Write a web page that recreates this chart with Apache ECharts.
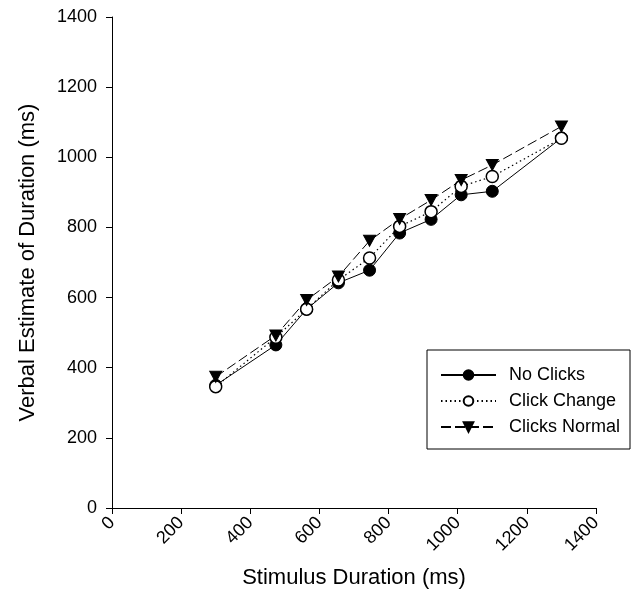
<!DOCTYPE html>
<html>
<head>
<meta charset="utf-8">
<script src="https://cdn.jsdelivr.net/npm/echarts@6/dist/echarts.min.js"></script>
<style>
  html, body { margin: 0; padding: 0; background: #fff; }
  #chart { width: 640px; height: 590px; }
</style>
</head>
<body>
<div id="chart"></div>
<script>
// Stimulus durations (ms) presented to participants
const stimulus = [300, 474, 563, 655, 745, 832, 923, 1010, 1100, 1300];

// Mean verbal estimates (ms) per condition
const noClicks     = [350, 465, 567, 642, 678, 784, 823, 893, 903, 1055];
const clickChange  = [346, 487, 567, 650, 713, 803, 845, 917, 945, 1054];
const clicksNormal = [374, 492, 593, 660, 762, 824, 878, 935, 978, 1088];

const seriesNames = ['No Clicks', 'Click Change', 'Clicks Normal'];

// Axis ticks (both axes share the same range)
const axisTicks = [0, 200, 400, 600, 800, 1000, 1200, 1400];

const FONT = '"Liberation Sans", Arial, sans-serif';

function pairs(ys) {
  return stimulus.map((x, i) => [x, ys[i]]);
}

// plain integers, no thousands separators
const plain = v => String(v);

const chart = echarts.init(document.getElementById('chart'), null, { renderer: 'canvas' });

const axisCommon = {
  type: 'value',
  min: axisTicks[0],
  max: axisTicks[axisTicks.length - 1],
  interval: axisTicks[1] - axisTicks[0],
  splitLine: { show: false },
  axisLine: { show: true, onZero: false, lineStyle: { color: '#000', width: 1 } },
  axisTick: { show: true, inside: false, length: 6, lineStyle: { color: '#000', width: 1 } },
  nameLocation: 'middle',
  nameTextStyle: { color: '#000', fontFamily: FONT, fontSize: 22 }
};

chart.setOption({
  animation: false,
  backgroundColor: '#fff',
  grid: { left: 112, right: 44, top: 17, bottom: 82, containLabel: false, outerBoundsMode: 'none' },
  xAxis: Object.assign({}, axisCommon, {
    name: 'Stimulus Duration (ms)',
    nameGap: 59,
    axisLabel: { rotate: 45, margin: 12, color: '#000', fontFamily: FONT, fontSize: 18, formatter: plain }
  }),
  yAxis: Object.assign({}, axisCommon, {
    name: 'Verbal Estimate of Duration (ms)',
    nameGap: 73,
    axisLabel: { margin: 15, color: '#000', fontFamily: FONT, fontSize: 18, formatter: plain }
  }),
  legend: {
    data: seriesNames,
    orient: 'vertical',
    left: 427,
    top: 350,
    width: 203,
    padding: [16, 10, 13, 13],
    itemWidth: 55,
    itemHeight: 12,
    itemGap: 8,
    borderColor: '#000',
    borderWidth: 1,
    borderRadius: 0,
    backgroundColor: '#fff',
    textStyle: { color: '#000', fontFamily: FONT, fontSize: 18, lineHeight: 18, padding: [0, 0, 0, 8] }
  },
  series: [
    {
      name: seriesNames[0],
      type: 'line',
      data: pairs(noClicks),
      symbol: 'circle',
      symbolSize: 12,
      lineStyle: { color: '#000', width: 1, type: 'solid' },
      itemStyle: { color: '#000', borderColor: '#000', borderWidth: 1 }
    },
    {
      name: seriesNames[1],
      type: 'line',
      data: pairs(clickChange),
      symbol: 'circle',
      symbolSize: 12,
      lineStyle: { color: '#000', width: 1.2, type: [1.5, 3] },
      itemStyle: { color: '#fff', borderColor: '#000', borderWidth: 1.5 }
    },
    {
      name: seriesNames[2],
      type: 'line',
      data: pairs(clicksNormal),
      symbol: 'triangle',
      symbolRotate: 180,
      symbolSize: [12, 11],
      lineStyle: { color: '#000', width: 1, type: [10, 4] },
      itemStyle: { color: '#000', borderColor: '#000', borderWidth: 1 }
    }
  ]
});
</script>
</body>
</html>
